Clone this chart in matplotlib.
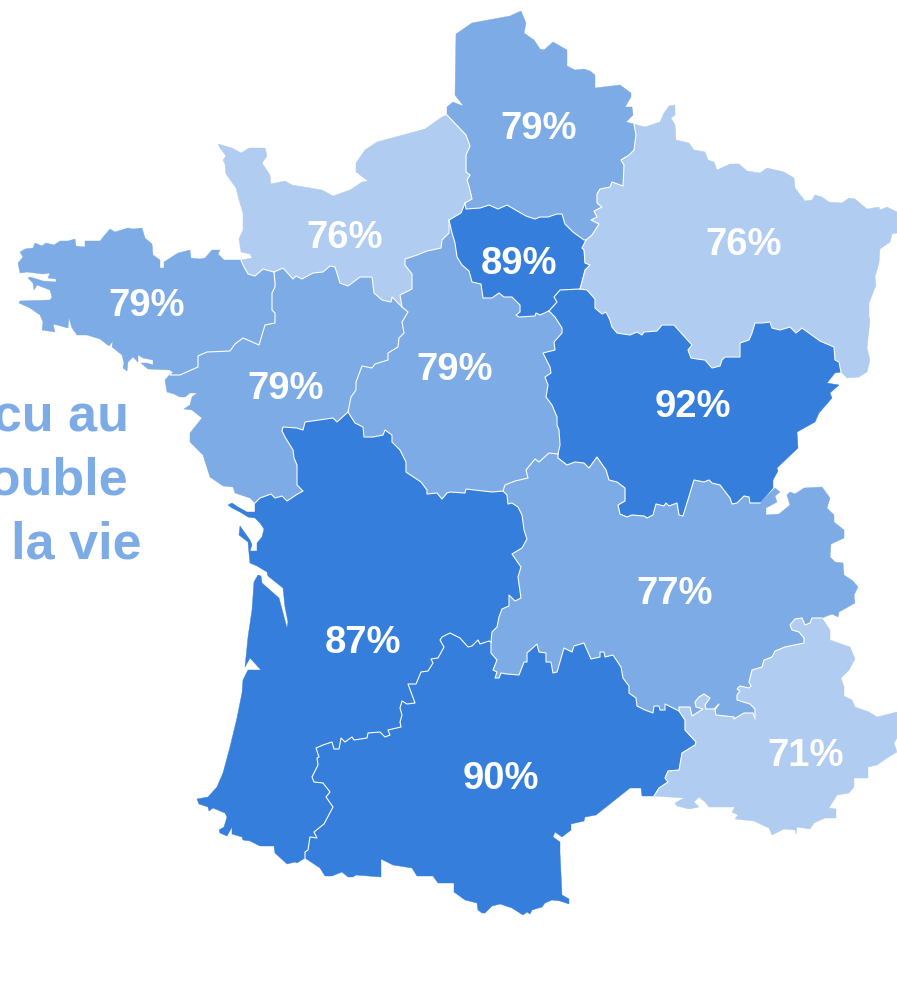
import matplotlib
matplotlib.use("Agg")
import matplotlib.pyplot as plt

# Define settings.
plt.rcParams['font.family'] = ['Liberation Sans', 'DejaVu Sans']
lightBlue = '#B0CCF1'
midBlue = '#7CABE6'
darkBlue = '#357EDB'

# Border pieces, in picture pixels. Shared pieces are used by both neighbours.
hdf_coast = [(447,115),(447,107),(453,102),(463,106),(462,104),(455,95),(456,34),(472,23),(510,16),(521,11),(526,23),(524,33),(534,40),(540,49),(544,50),(553,42),(560,46),(567,50),(567,66),(575,70),(584,69),(590,71),(595,75),(595,88),(620,85),(631,93),(631,97),(625,107),(632,107),(633,115),(626,122),(634,124)]
ge_hdf = [(634,124),(636,135),(634,150),(629,155),(621,160),(624,165),(623,186),(612,182),(610,187),(600,189),(597,194),(597,203),(602,207),(594,211),(597,217),(591,220),(599,224),(592,235),(586,240)]
idf_hdf = [(586,240),(584,240),(573,232),(565,224),(562,214),(557,214),(548,217),(540,217),(535,219),(526,216),(507,205),(498,209),(489,205),(480,208),(466,209),(465,203)]
nor_hdf = [(465,203),(472,199),(469,186),(467,180),(470,175),(466,172),(466,155),(470,146),(466,135),(447,115)]
nor_coast = [(241,260),(252,258),(250,254),(241,252),(239,239),(243,230),(243,213),(239,200),(236,188),(226,174),(225,164),(223,160),(226,156),(220,148),(218,144),(232,148),(241,153),(249,148),(265,148),(267,156),(262,163),(270,175),(271,184),(285,181),(292,185),(322,190),(333,196),(350,190),(362,182),(368,181),(356,172),(356,163),(365,150),(377,142),(425,129),(442,117),(447,115)]
idf_nor = [(465,203),(461,213),(449,220)]
nor_cen = [(449,220),(449,233),(442,240),(441,248),(427,251),(417,255),(405,259),(405,265),(412,274),(412,289),(400,295),(402,307)]
nor_pdl = [(402,307),(392,297),(391,302),(382,300),(374,293),(372,277),(360,277),(348,286),(340,283),(335,267),(330,266),(323,272),(313,273),(302,279),(296,276),(293,279),(283,268),(274,272)]
nor_bre = [(274,272),(263,269),(255,276),(248,274),(243,265),(241,260)]
bre_coast = [(241,260),(224,260),(218,254),(220,250),(212,250),(205,258),(200,259),(191,258),(190,250),(178,253),(164,262),(164,268),(160,268),(160,260),(153,255),(152,244),(145,238),(142,228),(133,229),(128,228),(115,232),(110,229),(104,236),(100,241),(85,241),(85,247),(76,246),(75,239),(68,241),(60,241),(54,245),(46,243),(42,246),(35,243),(33,248),(25,249),(20,252),(23,257),(18,263),(20,273),(27,272),(43,274),(50,273),(48,278),(56,279),(56,282),(43,281),(30,277),(28,278),(33,283),(34,290),(37,285),(50,290),(52,297),(50,300),(20,301),(19,303),(30,308),(40,315),(43,322),(42,330),(55,332),(53,324),(68,328),(69,318),(72,328),(77,335),(87,335),(100,339),(109,346),(113,341),(112,347),(122,355),(124,363),(123,368),(127,371),(128,362),(133,357),(138,362),(138,355),(143,358),(153,360),(153,365),(147,363),(141,363),(148,369),(170,370),(172,372)]
bre_pdl = [(172,372),(170,375),(180,375),(198,367),(198,356),(207,352),(230,351),(235,344),(243,338),(250,341),(259,345),(265,325),(275,323),(275,313),(272,310),(272,293),(275,287),(275,283),(274,272)]
pdl_cen = [(402,307),(408,312),(402,322),(404,333),(399,338),(398,347),(388,353),(388,360),(375,364),(372,368),(362,366),(356,382),(356,390),(351,397),(348,412)]
pdl_na = [(348,412),(337,422),(333,418),(305,422),(303,430),(297,428),(283,427),(282,431),(285,437),(293,450),(294,458),(297,465),(297,485),(303,491),(296,495),(287,501),(282,496),(275,498),(271,494),(260,498),(255,503)]
pdl_coast = [(172,372),(165,380),(167,392),(174,394),(180,397),(185,397),(190,393),(197,393),(192,397),(190,405),(184,409),(192,410),(202,418),(190,433),(190,442),(200,452),(203,455),(210,477),(223,486),(233,487),(235,493),(250,498),(255,503)]
na_coast = [(255,503),(255,512),(247,512),(238,507),(232,503),(228,505),(232,508),(240,512),(248,517),(255,518),(260,523),(264,529),(262,537),(257,543),(257,551),(250,551),(252,545),(250,540),(240,526),(239,535),(248,542),(249,553),(250,563),(257,566),(267,572),(268,576),(283,588),(285,607),(288,622),(287,628),(283,613),(279,598),(262,583),(261,576),(258,575),(254,582),(252,610),(248,637),(245,667),(250,658),(261,670),(248,670),(243,680),(242,693),(237,718),(230,747),(223,773),(217,787),(208,797),(197,799),(199,804),(208,807),(209,811),(213,808),(225,813),(227,817),(224,827),(219,830),(220,833),(227,836),(232,827),(232,834),(242,837),(243,840),(250,841),(260,846),(274,846),(275,853),(287,864),(295,862),(297,863),(305,858)]
na_occ = [(305,858),(305,852),(308,850),(310,837),(317,838),(314,832),(324,824),(333,807),(326,797),(330,792),(323,783),(314,782),(312,777),(318,765),(317,758),(319,757),(316,748),(323,745),(332,742),(334,749),(339,749),(341,738),(345,742),(352,737),(354,740),(367,738),(368,733),(380,732),(385,737),(390,735),(388,730),(401,727),(400,722),(402,715),(400,708),(402,701),(407,704),(415,703),(408,684),(416,684),(421,672),(428,671),(433,663),(431,659),(438,658),(444,647),(440,640),(442,637),(450,633),(460,638),(468,647),(472,646),(478,640),(480,644),(489,641),(491,642)]
ara_na = [(491,642),(492,632),(497,627),(499,617),(502,609),(509,606),(509,595),(515,601),(521,598),(518,577),(521,567),(512,554),(522,548),(527,539),(524,530),(522,515),(518,507),(512,503),(508,504),(507,495),(503,491)]
na_cen = [(503,491),(492,492),(466,489),(465,493),(450,492),(447,493),(442,499),(437,493),(427,494),(427,490),(421,482),(406,472),(406,462),(400,450),(392,442),(392,435),(385,430),(383,435),(373,437),(364,437),(363,427),(355,423),(348,412)]
idf_cen = [(449,220),(452,233),(455,243),(457,257),(462,265),(469,271),(472,282),(481,284),(483,298),(492,298),(499,293),(504,297),(512,297),(520,305),(520,312),(516,315),(519,317),(535,316),(536,313),(540,315),(549,311)]
cen_bfc = [(549,311),(555,317),(562,328),(562,333),(554,342),(555,350),(543,353),(550,367),(551,373),(545,377),(548,385),(546,397),(552,405),(557,417),(557,425),(559,430),(560,445),(558,454)]
cen_ara = [(558,454),(549,453),(539,462),(535,459),(526,470),(528,478),(515,481),(505,485),(503,491)]
idf_bfc = [(549,311),(557,302),(554,297),(560,290),(580,289)]
idf_ge = [(580,289),(585,270),(590,265),(585,263),(584,250),(582,248),(586,240)]
bfc_ge = [(580,289),(587,290),(595,299),(595,308),(602,314),(606,312),(610,320),(612,327),(617,333),(630,335),(637,332),(642,335),(644,332),(657,331),(662,325),(674,325),(692,345),(688,350),(691,358),(697,359),(705,360),(712,368),(720,366),(722,360),(725,357),(740,357),(740,343),(749,340),(752,333),(755,323),(762,323),(770,322),(772,328),(780,330),(790,327),(796,333),(802,328),(820,341),(834,347),(835,360),(839,362),(841,372)]
ge_coast = [(634,124),(645,127),(660,122),(664,113),(669,106),(675,105),(675,115),(671,118),(675,125),(676,140),(689,143),(694,150),(705,152),(708,160),(714,162),(717,170),(730,164),(739,164),(747,171),(760,173),(767,168),(784,172),(794,178),(795,188),(805,201),(812,200),(815,195),(822,197),(829,202),(842,203),(849,198),(855,199),(867,209),(879,207),(880,210),(887,207),(897,212),(897,233),(892,234),(890,242),(880,249),(879,263),(875,277),(876,285),(869,303),(869,317),(870,320),(867,348),(870,360),(867,372),(859,377),(847,378),(841,372)]
bfc_coast = [(841,372),(835,373),(827,383),(839,385),(830,393),(832,398),(819,413),(815,422),(797,432),(798,448),(777,468),(778,471),(773,480),(773,488),(760,503)]
bfc_ara = [(760,503),(750,503),(749,497),(744,496),(737,503),(732,504),(730,498),(720,485),(712,483),(709,480),(704,482),(694,480),(683,516),(679,515),(677,503),(669,506),(666,503),(664,506),(656,504),(653,515),(647,518),(644,516),(632,515),(627,517),(620,514),(618,505),(625,501),(625,488),(617,482),(609,480),(606,470),(597,457),(589,468),(584,463),(575,462),(567,465),(558,458),(558,454)]
ara_coast = [(760,503),(775,488),(780,492),(775,496),(777,502),(766,508),(766,515),(779,514),(790,505),(787,495),(790,492),(795,494),(804,488),(822,487),(830,498),(827,508),(834,515),(834,522),(844,530),(844,538),(831,544),(830,557),(835,562),(843,563),(844,575),(853,581),(858,587),(854,595),(855,603),(839,612),(838,617),(832,614),(822,618)]
ara_paca = [(822,618),(812,618),(810,623),(805,625),(802,618),(795,619),(790,625),(792,630),(799,632),(804,638),(804,643),(785,647),(775,651),(772,657),(764,660),(762,667),(752,670),(749,682),(751,686),(749,688),(740,686),(737,689),(740,691),(737,695),(737,700),(750,704),(755,709),(755,719),(753,713),(744,713),(734,719),(734,717),(716,715),(715,710),(719,704),(714,709),(706,709),(705,705),(710,698),(704,694),(699,697),(695,702),(696,707),(703,709),(692,716),(690,707),(679,707),(679,711)]
ara_occ = [(679,711),(665,704),(665,710),(660,710),(659,706),(654,706),(653,713),(645,710),(637,706),(636,698),(629,693),(629,686),(623,678),(621,667),(613,655),(605,657),(604,652),(600,652),(600,657),(591,659),(584,643),(574,646),(572,652),(564,648),(557,672),(553,673),(551,662),(546,662),(546,653),(539,652),(537,644),(527,653),(527,662),(524,662),(519,675),(507,674),(501,673),(499,678),(495,678),(497,672),(493,670),(497,660),(491,653),(491,642)]
occ_paca = [(679,711),(685,720),(685,730),(696,742),(695,745),(682,753),(679,770),(668,771),(665,778),(668,782),(659,788),(654,796)]
occ_coast = [(654,796),(642,796),(641,788),(630,788),(596,815),(585,817),(584,821),(571,824),(571,830),(562,837),(555,832),(553,837),(560,842),(560,853),(562,895),(569,899),(569,904),(560,901),(552,900),(545,903),(542,907),(532,910),(530,914),(527,912),(523,915),(512,908),(500,904),(492,906),(485,913),(482,913),(478,910),(477,903),(465,900),(454,892),(454,883),(442,883),(438,883),(433,876),(417,876),(412,868),(393,865),(381,859),(381,877),(356,875),(353,877),(348,877),(342,872),(332,876),(325,876),(320,868),(305,858)]
paca_coast = [(654,796),(684,798),(675,803),(677,806),(689,809),(699,807),(694,802),(699,797),(705,802),(709,807),(735,807),(732,812),(738,815),(735,819),(754,821),(769,828),(772,835),(784,829),(795,830),(796,834),(797,827),(810,829),(814,823),(825,818),(836,818),(836,809),(829,808),(837,795),(849,793),(854,787),(854,778),(868,778),(868,767),(877,765),(887,758),(897,752),(894,743),(897,738),(897,712),(877,717),(869,712),(855,707),(852,700),(844,696),(844,687),(841,678),(849,670),(855,659),(850,647),(830,640),(830,630),(822,618)]


def r(piece):
    return piece[::-1]


# Build the regions from the pieces.
regions = [
    hdf_coast + ge_hdf + idf_hdf + nor_hdf,
    nor_coast + r(nor_hdf) + idf_nor + nor_cen + nor_pdl + nor_bre,
    bre_coast + bre_pdl + nor_bre,
    r(nor_pdl) + pdl_cen + pdl_na + r(pdl_coast) + bre_pdl,
    r(nor_cen) + idf_cen + cen_bfc + cen_ara + na_cen + r(pdl_cen),
    idf_cen + idf_bfc + idf_ge + idf_hdf + idf_nor,
    ge_coast + r(bfc_ge) + idf_ge + r(ge_hdf),
    bfc_ge + bfc_coast + bfc_ara + r(cen_bfc) + idf_bfc,
    r(bfc_ara) + ara_coast + ara_paca + ara_occ + ara_na + r(cen_ara),
    r(pdl_na) + r(na_cen) + r(ara_na) + r(na_occ) + r(na_coast),
    na_occ + r(ara_occ) + occ_paca + occ_coast,
    r(ara_paca) + r(paca_coast) + r(occ_paca),
]
# Only the borders between two regions are drawn white.
innerBorders = [ge_hdf, idf_hdf, nor_hdf, idf_nor, nor_cen, nor_pdl, nor_bre, bre_pdl, pdl_cen, pdl_na,
                na_occ, ara_na, na_cen, idf_cen, cen_bfc, cen_ara, idf_bfc, idf_ge, bfc_ge, bfc_ara,
                ara_paca, ara_occ, occ_paca]
values = [79, 76, 79, 79, 79, 89, 76, 92, 77, 87, 90, 71]
labelX = [539, 345, 147, 286, 455, 519, 744, 693, 675, 363, 501, 806]
labelY = [129, 238, 306, 389, 370, 264, 245, 407, 594, 643, 779, 756]
titleLines = ['vécu au', 'double', 'de la vie']
titleX = [129, 128, 141]
titleY = [430, 494, 558]

# Display results.
fig = plt.figure(figsize=(8.97, 9.96), dpi=100)
ax = fig.add_axes([0, 0, 1, 1])
for outline, value in zip(regions, values):
    if value < 77:
        color = lightBlue
    elif value < 80:
        color = midBlue
    else:
        color = darkBlue
    ax.fill([p[0] for p in outline], [p[1] for p in outline], facecolor=color,
            edgecolor=color, linewidth=0.3)
for piece in innerBorders:
    ax.plot([p[0] for p in piece], [p[1] for p in piece], color='white', linewidth=0.8)
for x, y, value in zip(labelX, labelY, values):
    ax.text(x, y, '%d%%' % value, color='white', fontsize=27.5, fontweight='bold',
            ha='center', va='center')
for x, y, line in zip(titleX, titleY, titleLines):
    ax.text(x, y, line, color=midBlue, fontsize=37.5, fontweight='bold', ha='right', va='baseline')
ax.set_xlim(0, 897)
ax.set_ylim(996, 0)
ax.axis('off')
fig.savefig('out.png', dpi=100)
